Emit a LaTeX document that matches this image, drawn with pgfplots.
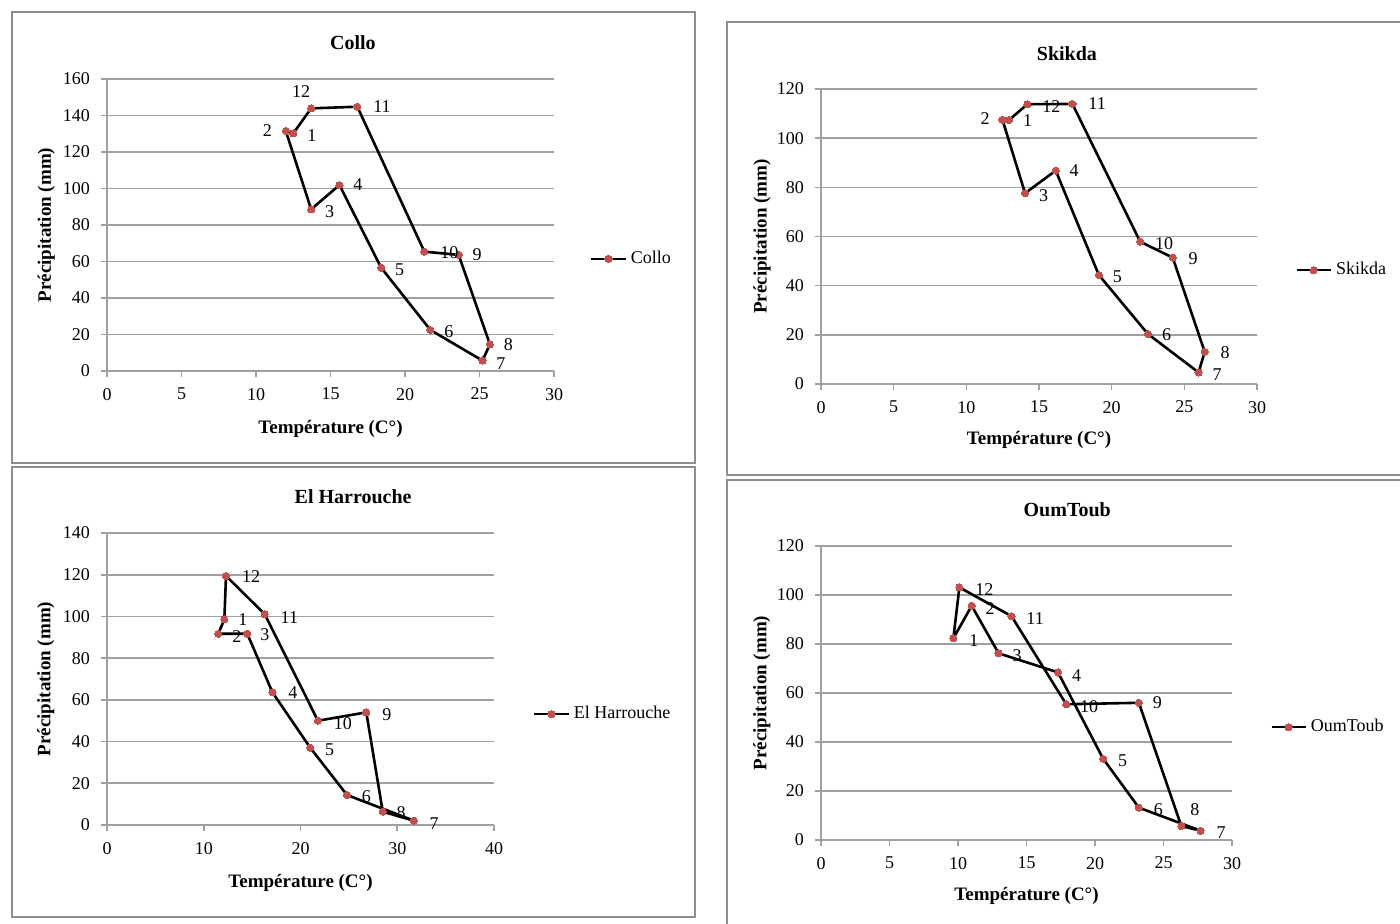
\documentclass[border=0pt]{standalone}
\usepackage{fontspec}
\setmainfont{Liberation Serif}
\usepackage{pgfplots}
\pgfplotsset{compat=1.18}
\usepackage{pgfplotstable}
\definecolor{gridgray}{HTML}{A0A0A0}
\definecolor{markred}{HTML}{C0504D}
\definecolor{framegray}{HTML}{8E8E8E}

% month labels: left edge offset (pt) of each label from its point
\pgfplotstableread{
x y m dx dy
12.5 130.2 1 7 -1
12.0 131.5 2 -11.5 0
13.7 88.6 3 7 -1
15.6 101.9 4 7 0
18.4 56.6 5 7 -1
21.7 22.5 6 7 -1
25.2 5.7 7 7 -1.5
25.7 14.6 8 7 0
23.6 63.6 9 7 0
21.3 65.4 10 8 -0.5
16.8 144.8 11 8 0
13.7 143.9 12 -9.5 8.2
12.5 130.2 {} 0 0
}\collo

\pgfplotstableread{
x y m dx dy
12.94 107.4 1 7 -0.5
12.49 107.4 2 -11 0.5
14.04 77.6 3 7 -1
16.15 86.8 4 7 0
19.12 44.3 5 7 -1
22.5 20.3 6 7 -0.5
25.98 4.7 7 7 -1
26.4 13.1 8 8 -0.5
24.2 51.4 9 8 -0.5
21.96 57.9 10 7.5 -1
17.3 113.9 11 8 0
14.2 113.8 12 7.5 -1
12.94 107.4 {} 0 0
}\skikda

\pgfplotstableread{
x y m dx dy
12.13 98.6 1 7 0
11.5 91.7 2 7 -1.5
14.5 91.7 3 6.5 -0.5
17.1 63.6 4 8 0
21.0 37.1 5 7.5 -1
24.8 14.4 6 7.5 -1
31.7 2.1 7 8 -1.5
28.5 6.4 8 7 -0.5
26.8 54.0 9 8 -1
21.8 50.0 10 8 -1.5
16.3 101.1 11 8 -1.5
12.3 119.4 12 8 -0.5
12.13 98.6 {} 0 0
}\harrouche

\pgfplotstableread{
x y m dx dy
9.66 82.3 1 8 -1
11.0 95.6 2 7 -1.5
12.96 76.2 3 7 -1
17.3 68.4 4 7 -1.5
20.6 33.1 5 7.5 -1
23.2 13.2 6 7.5 -1
27.7 3.8 7 8 -1
26.3 5.7 8 4.5 8
23.2 56.0 9 7 0
17.9 55.4 10 7 -1
13.9 91.4 11 7.5 -1
10.1 103.1 12 8 -1
9.66 82.3 {} 0 0
}\oumtoub

\pgfplotsset{
  panel/.style={
    scale only axis, clip=false,
    axis lines*=left,
    axis line style={gridgray, line width=0.8pt},
    ymajorgrids, grid style={gridgray, line width=0.8pt},
    tick style={gridgray, line width=0.8pt},
    tick align=outside, major tick length=3pt,
    xmin=0, ymin=0,
    tick label style={font=\fontsize{9}{10}\selectfont,
      /pgf/number format/assume math mode=true},
    xticklabel style={yshift=-2pt}, yticklabel style={xshift=-2pt},
    label style={font=\bfseries\fontsize{9.5}{11}\selectfont},
    title style={font=\bfseries\fontsize{10}{12}\selectfont, anchor=center},
    xlabel={Température (C°)}, ylabel={Précipitation (mm)},
    legend style={draw=none, fill=none, anchor=west, inner sep=0pt,
      font=\fontsize{9}{10}\selectfont},
  },
  lineonly/.style={
    black, line width=1.3pt, mark=*, mark size=1.8pt,
    mark options={draw=markred, fill=markred, line width=0pt},
  },
  months/.style={
    lineonly, forget plot,
    point meta=explicit symbolic, nodes near coords,
    visualization depends on={\thisrow{dx}\as\mydx},
    visualization depends on={\thisrow{dy}\as\mydy},
    every node near coord/.append style={anchor=west, xshift=\mydx pt,
      yshift=\mydy pt, inner sep=0pt, text=black,
      font=\fontsize{9}{10}\selectfont},
  },
}

\begin{document}
\begin{tikzpicture}
\useasboundingbox (0,0) rectangle (700pt,462pt);
\draw[framegray, line width=1pt] (6pt,230.5pt) rectangle (347.5pt,456pt);
\draw[framegray, line width=1pt] (363.5pt,224.5pt) rectangle (703pt,451pt);
\draw[framegray, line width=1pt] (6pt,3.5pt) rectangle (347.5pt,228.5pt);
\draw[framegray, line width=1pt] (363.5pt,-3pt) rectangle (703pt,222pt);

\begin{axis}[panel, at={(53.5pt,276.5pt)}, anchor=south west,
  width=223.5pt, height=146pt,
  xmax=30, ymax=160, xtick distance=5, ytick distance=20,
  title={Collo}, title style={at={(axis description cs:0.55,1.082)}},
  xlabel style={at={(axis description cs:0.5,0)}, yshift=-29pt, anchor=center},
  ylabel style={at={(axis description cs:-0.136,0.5)}, anchor=center},
  legend style={at={(axis description cs:1.08,0.384)}}]
\addplot[months] table[x=x, y=y, meta=m] {\collo};
\addlegendimage{lineonly}
\addlegendentry{Collo}
\end{axis}

\begin{axis}[panel, at={(410.5pt,270pt)}, anchor=south west,
  width=218pt, height=147.5pt,
  xmax=30, ymax=120, xtick distance=5, ytick distance=20,
  title={Skikda}, title style={at={(axis description cs:0.564,1.08)}},
  xlabel style={at={(axis description cs:0.5,0)}, yshift=-28pt, anchor=center},
  ylabel style={at={(axis description cs:-0.135,0.5)}, anchor=center},
  legend style={at={(axis description cs:1.087,0.386)}}]
\addplot[months] table[x=x, y=y, meta=m] {\skikda};
\addlegendimage{lineonly}
\addlegendentry{Skikda}
\end{axis}

\begin{axis}[panel, at={(53.5pt,49.5pt)}, anchor=south west,
  width=193.5pt, height=146pt,
  xmax=40, ymax=140, xtick distance=10, ytick distance=20,
  title={El Harrouche}, title style={at={(axis description cs:0.636,1.082)}},
  xlabel style={at={(axis description cs:0.5,0)}, yshift=-29pt, anchor=center},
  ylabel style={at={(axis description cs:-0.158,0.5)}, anchor=center},
  legend style={at={(axis description cs:1.10,0.38)}}]
\addplot[months] table[x=x, y=y, meta=m] {\harrouche};
\addlegendimage{lineonly}
\addlegendentry{El Harrouche}
\end{axis}

\begin{axis}[panel, at={(410.5pt,42pt)}, anchor=south west,
  width=205.5pt, height=147pt,
  xmax=30, ymax=120, xtick distance=5, ytick distance=20,
  title={OumToub}, title style={at={(axis description cs:0.599,1.084)}},
  xlabel style={at={(axis description cs:0.5,0)}, yshift=-28pt, anchor=center},
  ylabel style={at={(axis description cs:-0.144,0.5)}, anchor=center},
  legend style={at={(axis description cs:1.092,0.384)}}]
\addplot[months] table[x=x, y=y, meta=m] {\oumtoub};
\addlegendimage{lineonly}
\addlegendentry{OumToub}
\end{axis}
\end{tikzpicture}
\end{document}
